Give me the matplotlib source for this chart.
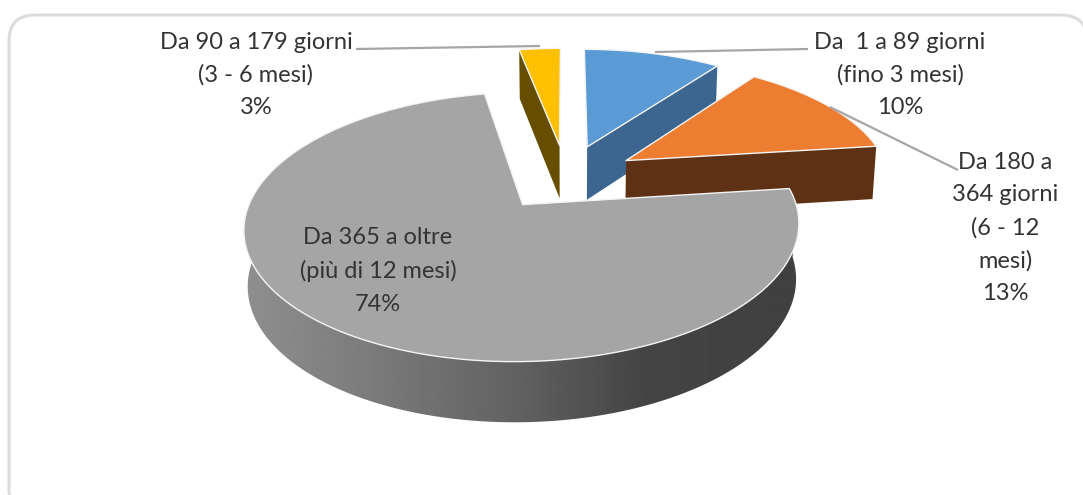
import numpy as np
import matplotlib
matplotlib.use("Agg")
import matplotlib.pyplot as plt
from matplotlib.patches import Polygon, FancyBboxPatch

# Data
categories = ["Da  1 a 89 giorni\n(fino 3 mesi)", "Da 180 a\n364 giorni\n(6 - 12\nmesi)",
              "Da 365 a oltre\n(più di 12 mesi)", "Da 90 a 179 giorni\n(3 - 6 mesi)"]
values = [10, 13, 74, 3]
top_colors = ["#5b9bd5", "#ed7d31", "#a5a5a5", "#ffc000"]
side_colors = ["#3c668f", "#5f3114", "#a5a5a5", "#664d00"]
label_pos = [(900, 75), (1005, 228), (378, 271), (256, 75)]
leaders = [[(655, 52), (808, 49)], [(830, 107), (958, 170)], None, [(356, 49), (540, 46)]]

# 3-D view of the pie (perspective plane mapped to pixels)
X0, Y0, R, S, K, EXPL, DEPTH, SHRINK = 566, 177, 264, 122, 0.16, 0.27, 54, 0.012


def project(wx, wy, z=0.0):
    wx, wy = np.asarray(wx, float), np.asarray(wy, float)
    s = 1 / (1 + K * wy)
    f = 1 - SHRINK * z
    return np.column_stack([X0 + R * wx * s * f,
                            Y0 - S * wy * s * f + DEPTH * z * s ** 0.7])


fig = plt.figure(figsize=(10.83, 4.95), dpi=100)
ax = fig.add_axes([0, 0, 1, 1])
ax.set_xlim(0, 1083)
ax.set_ylim(495, 0)
ax.axis("off")
ax.add_patch(FancyBboxPatch((9, 15), 1078, 500, boxstyle="round,pad=0,rounding_size=26",
                            fc="white", ec="#dcdcdc", lw=2.2, zorder=1))

fractions = np.array(values) / sum(values)
edges = np.concatenate([[0], np.cumsum(fractions)]) * 2 * np.pi


def slice_geom(i, n=160):
    a0, a1 = edges[i], edges[i + 1]
    mid = (a0 + a1) / 2
    ax0, ay0 = EXPL * np.sin(mid), EXPL * np.cos(mid)
    th = np.linspace(a0, a1, n)
    return ax0, ay0, th


draw_order = [3, 0, 1, 2]
for i in draw_order:
    ax0, ay0, th = slice_geom(i)
    z = 2 + draw_order.index(i)
    arcx, arcy = ax0 + np.sin(th), ay0 + np.cos(th)
    apex_t = project([ax0], [ay0])
    apex_b = project([ax0], [ay0], 1)
    if i == 2:
        # outer wall with left-to-right shading
        wall = np.linspace(np.pi / 2 - 0.02, 3 * np.pi / 2 + 0.02, 300)
        wx, wy = ax0 + np.sin(wall), ay0 + np.cos(wall)
        pts = np.vstack([project(wx, wy), project(wx, wy, 1)[::-1]])
        poly = Polygon(pts, closed=True, fc="none", ec="none", zorder=z)
        ax.add_patch(poly)
        stops_x = [245, 360, 520, 640, 800]
        stops_v = [0.56, 0.49, 0.38, 0.27, 0.25]
        ramp = np.interp(np.arange(245, 800), stops_x, stops_v)[None, :]
        im = ax.imshow(ramp, extent=(245, 800, 425, 190), cmap="gray", vmin=0, vmax=1,
                       aspect="auto", zorder=z, interpolation="bilinear")
        im.set_clip_path(poly)
        ax.set_xlim(0, 1083)
        ax.set_ylim(495, 0)
    else:
        # visible cut face: the one leading to the arc end nearest the viewer
        if i == 3:
            ex, ey = arcx[0], arcy[0]
        else:
            ex, ey = arcx[-1], arcy[-1]
        face = np.vstack([apex_t, project([ex], [ey]), project([ex], [ey], 1), apex_b])
        ax.add_patch(Polygon(face, closed=True, fc=side_colors[i], ec="none", zorder=z))
    top = np.vstack([apex_t, project(arcx, arcy)])
    ax.add_patch(Polygon(top, closed=True, fc=top_colors[i], ec="#f4f4f4", lw=1.0,
                         joinstyle="round", zorder=z + 0.5))

for seg in leaders:
    if seg:
        ax.plot(*zip(*seg), color="#a6a6a6", lw=1.6, zorder=10, solid_capstyle="butt")

values_pct = [f"{v}%" for v in values]
for cat, pct, (x, y) in zip(categories, values_pct, label_pos):
    ax.text(x, y, f"{cat}\n{pct}", ha="center", va="center", fontsize=17, family="Lato",
            color="#333333", linespacing=1.68, zorder=11)

fig.savefig("out.png", dpi=100)
